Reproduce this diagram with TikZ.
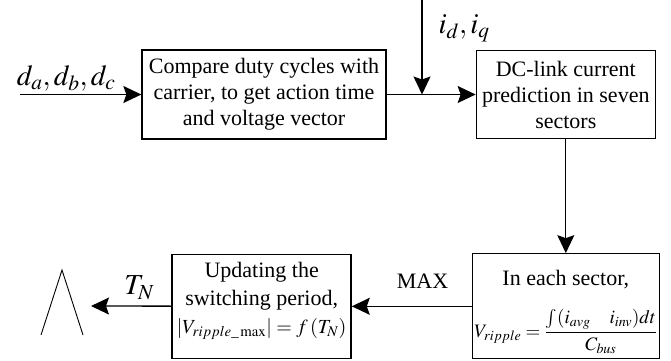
\documentclass[tikz,border=0pt]{standalone}
\usepackage{amsmath}
\usepackage{mathptmx}
\usepackage{fontspec}
\setmainfont{Liberation Serif}
\usetikzlibrary{positioning}
\usetikzlibrary{arrows.meta}
\tikzset{	x=1pt, y=1pt,
	>={Stealth[length=18pt,width=17pt,inset=3pt]},
	block/.style={
		draw,
		line width=1.3pt,
		align=center,
		inner sep=2pt,
		font=\fontsize{22}{26}\selectfont},
	lbl/.style={
		inner sep=3pt,
		font=\fontsize{29}{32}\selectfont},
	every edge/.style={
		draw,
		->,
		line width=1.3pt}
}

\begin{document}
\begin{tikzpicture}
				\useasboundingbox (0,0) rectangle (671,-360);
				\node[block, minimum width=244pt, minimum height=89pt] (cmp) at (264,-94.5) {Compare duty cycles with\\carrier, to get action time\\and voltage vector};
				\node[block, minimum width=179pt, minimum height=88pt, right=89pt of cmp] (pred) {DC-link current\\prediction in seven\\sectors};
				\node[block, minimum width=179pt, minimum height=105pt, below=114pt of pred] (sec) {\rule{0pt}{20pt}In each sector,\\[26pt]\fontsize{19}{26}\selectfont\smash{$V_{ripple}=\dfrac{\textstyle\int(i_{avg}\quad i_{inv})dt}{C_{bus}}$}\rule[-10.6pt]{0pt}{0pt}};
				\node[block, minimum width=179pt, minimum height=104pt, left=120pt of sec, font=\fontsize{22}{28}\selectfont] (upd) {\rule{0pt}{20pt}Updating the\\switching period,\\\fontsize{20}{28}\selectfont\smash{$|V_{ripple\_\max}|= f\,(T_N)$}\rule[-22.6pt]{0pt}{0pt}};
				\coordinate (din) at (20,-94.5);
				\coordinate (iin) at (422,0);
				\coordinate (tout) at (91,-306);
				\draw (din) edge node[lbl, above, pos=0.38] {$d_a,d_b,d_c$} (cmp);
				\draw (iin) edge node[lbl, anchor=west, pos=0.3, xshift=13pt] {$i_d,i_q$} (iin |- cmp.east);
				\draw (cmp) edge[-] (iin |- cmp.east);
				\draw (iin |- cmp.east) edge (pred);
				\draw (pred) edge (sec);
				\draw (sec) edge node[above, pos=0.41, yshift=14pt, font=\fontsize{22}{26}\selectfont] {MAX} (upd);
				\draw (upd) edge node[lbl, above, pos=0.4, yshift=3pt] {$T_N$} (tout);
				% output waveform symbol
				\draw[line width=0.9pt] (41,-335) -- (62,-270) -- (83,-335);
			\end{tikzpicture}
\end{document}
